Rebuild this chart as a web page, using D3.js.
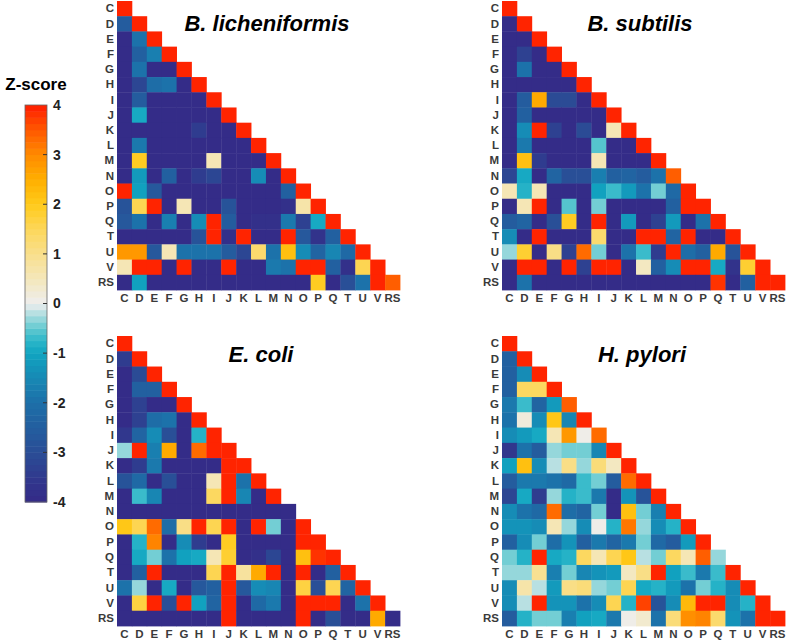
<!DOCTYPE html>
<html>
<head>
<meta charset="utf-8">
<script src="https://cdn.jsdelivr.net/npm/d3@7"></script>
<style>
  html, body { margin: 0; padding: 0; background: #ffffff; }
  svg { display: block; }
  text { font-family: "Liberation Sans", Arial, Helvetica, sans-serif; }
</style>
</head>
<body>
<svg id="chart" width="787" height="640"></svg>
<script>
// ---------------- DATA ----------------
const categories = ["C","D","E","F","G","H","I","J","K","L","M","N","O","P","Q","T","U","V","RS"];
const colorbarTicks = [4, 3, 2, 1, 0, -1, -2, -3, -4];

// lower-triangle rows (row i has values for columns 0..i)
const bLicheniformis = [
  [4],
  [-2.6, 4],
  [-4, -1.9, 4],
  [-4, -2.4, -1.7, 4],
  [-4, -1.9, -4, -4, 4],
  [-4, -3.2, -2.1, -1.9, -4, 4],
  [-4, -2.6, -4, -4, -4, -4, 4],
  [-4, -1.0, -4, -4, -4, -4, -4, 4],
  [-4, -4, -4, -4, -4, -3.4, -4, -4, 4],
  [-4, -1.8, -4, -4, -4, -4, -4, -4, -4, 4],
  [-4, 1.9, -4, -4, -4, -4, 0.6, -4, -4, -4, 4],
  [-4, -1.2, -4, -2.5, -4, -3.5, -3.2, -4, -4, -1.5, -4, 4],
  [4, -1.1, -2.7, -4, -4, -4, -4, -4, -4, -4, -4, -2.5, 4],
  [-2.8, 1.6, 4, -4, 0.5, -4, -4, -2.8, -4, -4, -4, -3.8, 0.7, 4],
  [-2.7, -1.9, -4, -1.7, -4, -1.4, 4, -2.6, -4, -3.8, -3.8, -1.8, -3.3, -1.0, 4],
  [-4, -4, -4, -4, -4, -2.8, 4, -3.8, 4, -4, -4, 4, -2.7, -3.7, -2.5, 4],
  [2.8, 2.8, -2.7, 0.5, -1.9, -2.0, -1.9, -2.6, -3.2, 1.3, -2.0, 2.2, -1.4, -2.3, -1.6, -2.2, 4],
  [0.5, 4, 4, -4, 4, -4, -4, 4, -4, -4, -1.8, -2.0, 4, 4, -2.5, -3.8, 1.5, 4],
  [-4, -1.1, -4, -4, -4, -4, -4, -4, -4, -4, -4, -4, -4, 1.9, -4, -3.0, -1.9, 4, 3.4]
];

const bSubtilis = [
  [4],
  [-4, 4],
  [-4, -4, 4],
  [-4, -3.3, -4, 4],
  [-4, -2.0, -4, -4, 4],
  [-4, -4, -4, -4, -4, 4],
  [-4, -2.6, 2.6, -3.1, -3.1, -4, 4],
  [-4, -2.4, -4, -4, -4, -4, -4, 4],
  [-4, -1.5, 4, -3.3, -4, -3.1, -4, 0.5, 4],
  [-4, -1.8, -4, -4, -4, -4, -0.6, -4, -4, 4],
  [-4, 2.2, -3.5, -4, -4, -4, 0.5, -4, -4, -4, 4],
  [-3.2, -1.0, -4, -2.3, -3.0, -3.0, -1.7, -2.5, -2.3, -2.6, -1.9, 3.4],
  [0.5, -0.8, 0.6, -4, -4, -4, -1.1, -0.7, -1.2, -1.9, -0.4, -2.2, 4],
  [-4, 0.5, 4, -4, -0.6, -4, -0.4, -4, -4, -4, -4, -2.4, 4, 4],
  [-2.6, -2.3, -4, -2.9, 1.9, -4, 4, -4, -1.2, -4, -3.3, -1.2, -4, -1.9, 4],
  [-1.4, -4, 4, -4, -4, -4, 1.3, -4, -4, 4, 4, -2.3, 4, -4, -4, 4],
  [-0.3, 1.8, -4, 1.1, -3.3, 3.3, -0.4, -4, -2.0, -0.7, -3.4, 3.9, -2.1, -2.5, 2.6, -2.8, 4],
  [-4, 4, 4, -4, 4, -3.3, 4, 4, -4, 0.4, -2.4, -1.5, 4, 4, -0.9, -3.7, 1.8, 4],
  [-4, -1.9, -4, -4, -4, -4, -4, -4, -4, -4, -4, -4, -4, -4, 3.8, -4, -2.4, 4, 4]
];

const eColi = [
  [4],
  [-3.4, 4],
  [-4, -3.1, 4],
  [-4, -2.4, -2.4, 4],
  [-4, -3.3, -4, -4, 4],
  [-4, -3.3, -2.1, -1.9, -4, 4],
  [-3.6, -2.3, -1.5, -2.9, -4, -0.8, 4],
  [-0.3, 4, -1.7, 2.6, -4, 3.3, 4, 4],
  [-4, -3.4, -1.8, -4, -4, -4, -4, 4, 4],
  [-2.8, -2.2, -4, -2.9, -4, -4, 0.6, 4, -1.9, 4],
  [-4, -0.7, -1.6, -4, -4, -4, 1.4, 4, -1.6, -4, 4],
  [-4, -4, -4, -4, -4, -4, -4, -4, -4, -4, -4, -4],
  [2.0, 1.6, 3.3, -2.1, 1.0, 4, 1.6, 4, -4, 4, -0.5, -4, 4],
  [-4, -0.8, 3.1, -4, -1.4, -3.4, -4, 1.9, -4, -4, -4, -4, 4, 4],
  [-4, -1.0, -0.5, -2.0, -1.1, -0.9, 0.5, 1.8, -4, -3.8, -3.2, -4, 2.2, 3.8, 4],
  [-4, -2.5, 4, -4, -4, -4, 1.5, 4, 0.8, 2.6, 4, -4, 4, -4, -2.5, 4],
  [-1.9, -0.3, -4, -0.9, -4, -2.7, -2.5, 4, -2.7, -1.5, -1.6, -4, 1.7, -2.9, 1.5, -2.3, 4],
  [-4, 1.7, 4, -3.0, 4, -1.1, -2.3, 4, -4, -2.2, -1.8, -4, 4, 4, 4, -4, -1.9, 4],
  [-4, -4, -4, -4, -4, -4, -4, 4, -4, -4, -4, -4, 4, -4, -3.0, -4, -4, 2.5, -4]
];

const hPylori = [
  [4],
  [-2.4, 4],
  [-2.5, -1.4, 4],
  [-2.4, 1.4, 1.4, 4],
  [-1.8, -0.7, -2.3, -1.2, 3.4],
  [-2.0, 0.2, -1.5, 2.0, -1.6, 4],
  [-1.4, -1.2, -1.0, 0.6, 2.8, 0.05, 3.3],
  [-3.6, -2.0, -2.6, -0.3, -0.5, -0.5, -1.6, 4],
  [-1.1, 2.2, -1.5, -0.15, 1.0, -0.3, 1.2, 0.4, 4],
  [-2.6, -1.8, -1.8, -2.0, -2.2, -0.7, -0.5, -2.6, 3.3, 4],
  [-3.2, -1.0, -3.5, -0.3, -0.8, -0.7, -1.8, -3.9, -1.3, -2.8, 4],
  [-1.4, -1.9, -2.2, 3.3, -2.1, -2.3, -0.5, -3.9, 2.2, -0.4, -1.7, 4],
  [-1.3, -1.3, -1.4, 0.5, -0.3, -1.5, 0.0, -0.8, 3.2, -0.3, -1.5, -0.8, 4],
  [-2.4, -1.4, -0.5, -2.1, -1.3, -2.4, -1.8, -2.3, -1.8, -0.4, -2.2, -2.6, -1.2, 4],
  [-0.4, -0.8, 4, -1.0, -0.8, 1.4, 0.6, 1.5, 2.1, -0.15, -0.5, 1.4, 0.5, 3.4, -0.3],
  [-0.3, -0.3, 0.9, -1.7, -0.5, -1.6, -1.3, -1.2, 0.4, 1.1, 4, -1.1, -0.7, -1.8, -0.7, 4],
  [-1.5, 0.7, -0.15, -1.2, 1.0, 1.2, -0.3, -0.5, 1.6, -1.0, -0.8, -1.2, -2.0, -0.4, -0.8, -1.4, 4],
  [-1.5, -0.2, 4, -1.3, -1.3, -1.9, -1.5, 1.5, -0.8, 3.7, -2.8, -1.4, 2.3, 4, 4, -1.5, -0.8, 4],
  [-2.6, -0.8, -0.4, -0.4, -1.7, -1.1, -1.0, -1.8, 0.05, 0.3, -2.0, 1.2, 2.9, 3.0, 1.3, -1.3, -2.0, 4, 4]
];

const panelTitles = ["B. licheniformis", "B. subtilis", "E. coli", "H. pylori"];
const panelData = [bLicheniformis, bSubtilis, eColi, hPylori];

// ---------------- COLOR ----------------
const stopValues = [-4, -3.5, -3, -2.5, -2, -1.5, -1, -0.75, -0.5, -0.25, 0, 0.5, 1, 1.5, 2, 2.5, 3, 3.5, 4];
const stopColors = ["#352a87", "#30398e", "#2a4d96", "#235e9f", "#1d6fa8", "#1789b4", "#10a4c1",
                    "#2cb6c9", "#62c9d0", "#a6dbde", "#eeeeee", "#f4e7bb", "#f8df8c", "#fdd75a",
                    "#ffca1a", "#ffae00", "#ff8a00", "#ff5800", "#ff1c00"];
const nLevels = 64;
const baseColor = d3.scaleLinear().domain(stopValues).range(stopColors).interpolate(d3.interpolateRgb).clamp(true);
const color = v => {
  const t = Math.max(0, Math.min(nLevels - 1, Math.floor((v + 4) / 8 * nLevels)));
  return baseColor(-4 + (t + 0.5) * 8 / nLevels);
};

// ---------------- LAYOUT ----------------
const svg = d3.select("#chart");
const panels = [
  {x: 117, y: 1, w: 283, h: 289, tx: 267, ty: 31},
  {x: 502, y: 1, w: 283, h: 289, tx: 640, ty: 31},
  {x: 117, y: 336, w: 283, h: 290, tx: 261, ty: 362},
  {x: 502, y: 336, w: 283, h: 290, tx: 642, ty: 362}
];

panels.forEach((p, pi) => {
  const x = d3.scaleBand().domain(categories).range([p.x, p.x + p.w]).padding(0);
  const y = d3.scaleBand().domain(categories).range([p.y, p.y + p.h]).padding(0);
  const cells = [];
  panelData[pi].forEach((row, ri) => row.forEach((v, ci) => cells.push({r: categories[ri], c: categories[ci], v})));
  const g = svg.append("g");
  g.selectAll("rect").data(cells).join("rect")
    .attr("x", d => x(d.c))
    .attr("y", d => y(d.r))
    .attr("width", x.bandwidth() + 0.4)
    .attr("height", y.bandwidth() + 0.4)
    .attr("fill", d => color(d.v));

  const xAxis = d3.axisBottom(x).tickSize(0).tickPadding(3);
  const gx = svg.append("g").attr("transform", `translate(0,${p.y + p.h + 1})`).call(xAxis);
  const yAxis = d3.axisLeft(y).tickSize(0).tickPadding(3);
  const gy = svg.append("g").attr("transform", `translate(${p.x},0)`).call(yAxis);
  [gx, gy].forEach(a => {
    a.select(".domain").remove();
    a.selectAll("text").attr("font-size", 11.5).attr("font-weight", "bold").attr("fill", "#3a3a3a")
      .attr("font-family", "'Liberation Sans', Arial, sans-serif");
  });

  svg.append("text")
    .attr("x", p.tx).attr("y", p.ty)
    .attr("text-anchor", "middle")
    .attr("font-size", 22).attr("font-weight", "bold").attr("font-style", "italic")
    .attr("fill", "#000")
    .text(panelTitles[pi]);
});

// ---------------- COLORBAR ----------------
const cb = {x: 25, y: 105, w: 22, h: 397};
const cbScale = d3.scaleLinear().domain([-4, 4]).range([cb.y + cb.h, cb.y]);
const bands = d3.range(nLevels).map(i => -4 + (i + 0.5) * 8 / nLevels);
svg.append("g").selectAll("rect").data(bands).join("rect")
  .attr("x", cb.x)
  .attr("y", d => cbScale(d + 4 / nLevels))
  .attr("width", cb.w)
  .attr("height", cb.h / nLevels + 0.5)
  .attr("fill", d => color(d));
svg.append("rect").attr("x", cb.x).attr("y", cb.y).attr("width", cb.w).attr("height", cb.h)
  .attr("fill", "none").attr("stroke", "#666").attr("stroke-width", 0.8);

const cbAxis = d3.axisRight(cbScale).tickValues(colorbarTicks).tickSize(0).tickPadding(6).tickFormat(d => String(d));
const gcb = svg.append("g").attr("transform", `translate(${cb.x + cb.w},0)`).call(cbAxis);
gcb.select(".domain").remove();
gcb.selectAll("text").attr("font-size", 14).attr("font-weight", "bold").attr("fill", "#222")
  .attr("font-family", "'Liberation Sans', Arial, sans-serif");
svg.append("g").selectAll("line").data(colorbarTicks.filter(t => t > -4 && t < 4)).join("line")
  .attr("x1", cb.x + cb.w - 4).attr("x2", cb.x + cb.w)
  .attr("y1", d => cbScale(d)).attr("y2", d => cbScale(d))
  .attr("stroke", "#333").attr("stroke-width", 1);

svg.append("text").attr("x", 36).attr("y", 90).attr("text-anchor", "middle")
  .attr("font-size", 17).attr("font-weight", "bold").attr("fill", "#000").text("Z-score");
</script>
</body>
</html>
